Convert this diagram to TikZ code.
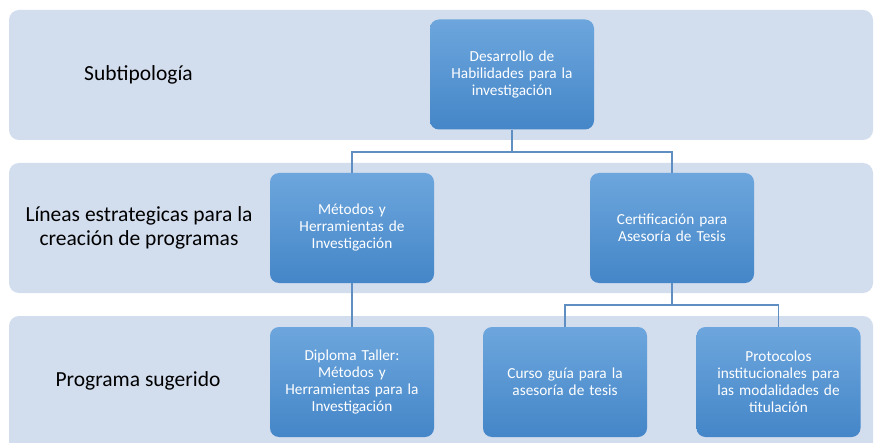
\documentclass[tikz,border=0pt]{standalone}
\usepackage{fontspec}
\setmainfont{Carlito}
\definecolor{bandcol}{HTML}{D2DDEE}
\definecolor{boxtop}{HTML}{6DA6DD}
\definecolor{boxbot}{HTML}{4486C8}
\definecolor{linecol}{HTML}{5E8EC2}
\begin{document}
\begin{tikzpicture}[x=1pt,y=-1pt,
  band/.style={fill=bandcol,draw=none,rounded corners=10pt},
  bandlabel/.style={align=center,font=\fontsize{21.5}{23.5}\selectfont,text=black},
  box/.style={rounded corners=9pt,top color=boxtop,bottom color=boxbot,draw=none,
    minimum width=164pt,minimum height=110pt,align=center,text=white,
    font=\fontsize{15.3}{17}\selectfont,text width=150pt},
  conn/.style={draw=linecol,line width=1.3pt}]
\clip (0,0) rectangle (874,443);
\fill[white] (0,0) rectangle (874,443);
% bands
\path[band] (9,10) rectangle (873,140);
\path[band] (9,163) rectangle (873,293);
\path[band] (9,316) rectangle (873,460);
% band labels
\node[bandlabel] (l1) at (138.5,75) {Subtipología};
\node[bandlabel] (l2) at (139,228) {Líneas estrategicas para la\\creación de programas};
\node[bandlabel] (l3) at (138,381) {Programa sugerido};
% boxes
\node[box] (top) at (512,74.5) {Desarrollo de\\Habilidades para la\\investigación};
\node[box] (met) at (352,228) {Métodos y\\Herramientas de\\Investigación};
\node[box] (cert) at (672,228) {Certificación para\\Asesoría de Tesis};
\node[box] (dip) at (352,382) {Diploma Taller:\\Métodos y\\Herramientas para la\\Investigación};
\node[box] (cur) at (565,382) {Curso guía para la\\asesoría de tesis};
\node[box] (pro) at (778.5,382) {Protocolos\\institucionales para\\las modalidades de\\titulación};
% connectors
\coordinate (j1) at (512,152);
\coordinate (j2) at (672,305);
\draw[conn] (top.south) -- (j1) -| (met.north);
\draw[conn] (j1) -| (cert.north);
\draw[conn] (met.south) -- (dip.north);
\draw[conn] (cert.south) -- (j2) -| (cur.north);
\draw[conn] (j2) -| (pro.north);
\end{tikzpicture}
\end{document}
